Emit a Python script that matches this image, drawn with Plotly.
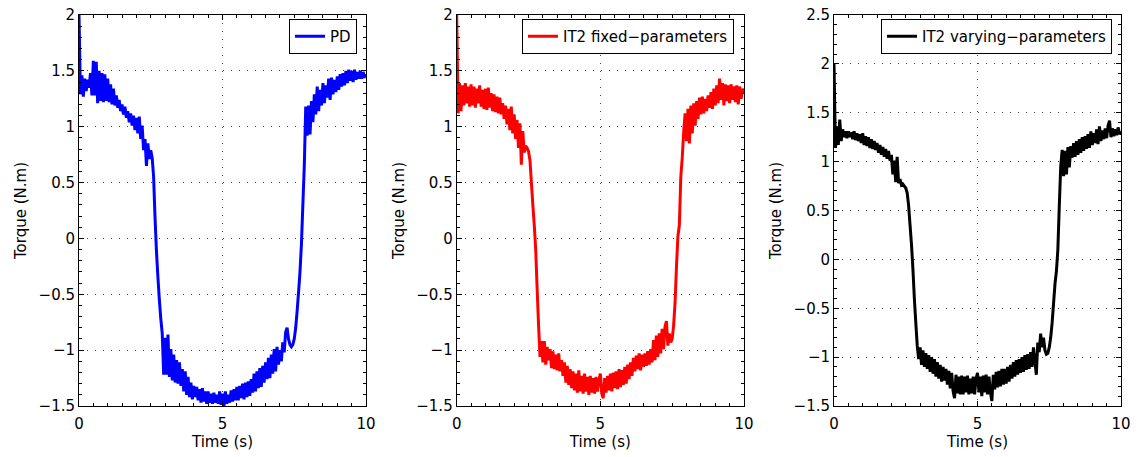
import plotly.graph_objects as go

# ---------------- data ----------------
TIME_S = [
    0.00, 0.05, 0.10, 0.15, 0.20, 0.25, 0.30, 0.35, 0.40, 0.45,
    0.50, 0.55, 0.60, 0.65, 0.70, 0.75, 0.80, 0.85, 0.90, 0.95,
    1.00, 1.05, 1.10, 1.15, 1.20, 1.25, 1.30, 1.35, 1.40, 1.45,
    1.50, 1.55, 1.60, 1.65, 1.70, 1.75, 1.80, 1.85, 1.90, 1.95,
    2.00, 2.05, 2.10, 2.15, 2.20, 2.25, 2.30, 2.35, 2.40, 2.45,
    2.50, 2.55, 2.60, 2.65, 2.70, 2.75, 2.80, 2.85, 2.90, 2.95,
    3.00, 3.05, 3.10, 3.15, 3.20, 3.25, 3.30, 3.35, 3.40, 3.45,
    3.50, 3.55, 3.60, 3.65, 3.70, 3.75, 3.80, 3.85, 3.90, 3.95,
    4.00, 4.05, 4.10, 4.15, 4.20, 4.25, 4.30, 4.35, 4.40, 4.45,
    4.50, 4.55, 4.60, 4.65, 4.70, 4.75, 4.80, 4.85, 4.90, 4.95,
    5.00, 5.05, 5.10, 5.15, 5.20, 5.25, 5.30, 5.35, 5.40, 5.45,
    5.50, 5.55, 5.60, 5.65, 5.70, 5.75, 5.80, 5.85, 5.90, 5.95,
    6.00, 6.05, 6.10, 6.15, 6.20, 6.25, 6.30, 6.35, 6.40, 6.45,
    6.50, 6.55, 6.60, 6.65, 6.70, 6.75, 6.80, 6.85, 6.90, 6.95,
    7.00, 7.05, 7.10, 7.15, 7.20, 7.25, 7.30, 7.35, 7.40, 7.45,
    7.50, 7.55, 7.60, 7.65, 7.70, 7.75, 7.80, 7.85, 7.90, 7.95,
    8.00, 8.05, 8.10, 8.15, 8.20, 8.25, 8.30, 8.35, 8.40, 8.45,
    8.50, 8.55, 8.60, 8.65, 8.70, 8.75, 8.80, 8.85, 8.90, 8.95,
    9.00, 9.05, 9.10, 9.15, 9.20, 9.25, 9.30, 9.35, 9.40, 9.45,
    9.50, 9.55, 9.60, 9.65, 9.70, 9.75, 9.80, 9.85, 9.90, 9.95,
    10.00,
]

PD_TORQUE = [
    2.00, 1.29, 1.46, 1.27, 1.43, 1.32, 1.42, 1.35, 1.48, 1.28,
    1.59, 1.28, 1.58, 1.21, 1.50, 1.23, 1.48, 1.22, 1.47, 1.23,
    1.43, 1.22, 1.38, 1.20, 1.34, 1.19, 1.28, 1.17, 1.24, 1.14,
    1.20, 1.11, 1.18, 1.08, 1.14, 1.04, 1.12, 1.01, 1.10, 0.97,
    1.08, 0.94, 1.09, 0.89, 1.01, 0.79, 0.89, 0.65, 0.85, 0.71,
    0.79, 0.72, 0.55, 0.18, -0.12, -0.35, -0.55, -0.72, -0.85, -1.22,
    -0.89, -1.22, -0.86, -1.24, -0.99, -1.27, -1.04, -1.29, -1.09, -1.30,
    -1.11, -1.32, -1.17, -1.37, -1.19, -1.40, -1.24, -1.42, -1.29, -1.44,
    -1.32, -1.42, -1.33, -1.45, -1.35, -1.47, -1.34, -1.46, -1.37, -1.48,
    -1.37, -1.47, -1.39, -1.48, -1.38, -1.47, -1.40, -1.48, -1.37, -1.49,
    -1.39, -1.50, -1.37, -1.48, -1.40, -1.47, -1.36, -1.46, -1.35, -1.45,
    -1.33, -1.45, -1.32, -1.43, -1.30, -1.44, -1.29, -1.42, -1.28, -1.41,
    -1.26, -1.38, -1.21, -1.37, -1.19, -1.34, -1.16, -1.33, -1.14, -1.29,
    -1.11, -1.26, -1.07, -1.25, -1.04, -1.21, -0.99, -1.19, -0.97, -1.13,
    -1.00, -1.10, -0.93, -1.02, -0.84, -0.80, -0.90, -0.95, -0.97, -0.95,
    -0.90, -0.80, -0.65, -0.48, -0.30, -0.05, 0.30, 0.65, 1.18, 0.92,
    1.19, 0.93, 1.23, 1.04, 1.29, 1.11, 1.36, 1.14, 1.33, 1.19,
    1.39, 1.21, 1.37, 1.26, 1.43, 1.24, 1.44, 1.29, 1.42, 1.31,
    1.45, 1.33, 1.47, 1.36, 1.48, 1.37, 1.50, 1.39, 1.51, 1.41,
    1.50, 1.40, 1.51, 1.42, 1.49, 1.43, 1.50, 1.43, 1.49, 1.44,
    1.47,
]

IT2_FIXED_TORQUE = [
    2.00, 1.12, 1.39, 1.14, 1.37, 1.19, 1.39, 1.21, 1.36, 1.18,
    1.38, 1.19, 1.36, 1.17, 1.34, 1.21, 1.37, 1.18, 1.33, 1.16,
    1.34, 1.15, 1.35, 1.17, 1.30, 1.14, 1.29, 1.13, 1.27, 1.12,
    1.26, 1.11, 1.21, 1.07, 1.19, 1.02, 1.16, 0.97, 1.18, 0.94,
    1.11, 0.89, 1.06, 0.81, 1.03, 0.66, 0.96, 0.77, 0.83, 0.81,
    0.78, 0.70, 0.50, 0.30, 0.12, -0.10, -0.45, -0.78, -1.06, -0.92,
    -1.11, -0.92, -1.13, -0.97, -1.09, -0.99, -1.16, -1.01, -1.17, -1.04,
    -1.18, -1.03, -1.19, -1.09, -1.23, -1.11, -1.29, -1.14, -1.31, -1.17,
    -1.34, -1.19, -1.36, -1.21, -1.38, -1.18, -1.37, -1.23, -1.39, -1.21,
    -1.37, -1.24, -1.40, -1.23, -1.38, -1.25, -1.39, -1.24, -1.37, -1.27,
    -1.21, -1.39, -1.43, -1.25, -1.38, -1.23, -1.36, -1.21, -1.37, -1.20,
    -1.34, -1.19, -1.35, -1.17, -1.33, -1.18, -1.31, -1.15, -1.30, -1.13,
    -1.26, -1.11, -1.23, -1.07, -1.19, -1.05, -1.17, -1.03, -1.18, -1.04,
    -1.15, -1.03, -1.14, -1.01, -1.13, -0.99, -1.11, -0.91, -1.09, -0.87,
    -1.06, -0.85, -1.03, -0.81, -0.99, -0.79, -0.74, -0.96, -0.85, -0.93,
    -0.90, -0.78, -0.58, -0.25, 0.02, 0.12, 0.55, 0.72, 0.95, 1.12,
    0.87, 1.16, 0.85, 1.19, 0.94, 1.21, 1.01, 1.23, 1.07, 1.26,
    1.11, 1.27, 1.12, 1.25, 1.14, 1.28, 1.17, 1.31, 1.16, 1.34,
    1.19, 1.37, 1.21, 1.43, 1.24, 1.39, 1.19, 1.38, 1.23, 1.37,
    1.21, 1.38, 1.24, 1.36, 1.22, 1.37, 1.20, 1.36, 1.25, 1.34,
    1.30,
]

IT2_VARYING_TORQUE = [
    2.00, 1.14, 1.36, 1.17, 1.43, 1.21, 1.33, 1.25, 1.31, 1.24,
    1.31, 1.25, 1.30, 1.23, 1.31, 1.22, 1.29, 1.21, 1.28, 1.19,
    1.29, 1.17, 1.26, 1.16, 1.25, 1.14, 1.23, 1.13, 1.21, 1.12,
    1.19, 1.09, 1.17, 1.07, 1.15, 1.05, 1.13, 1.03, 1.11, 1.01,
    1.07, 0.87, 1.01, 0.79, 1.05, 0.78, 0.82, 0.76, 0.77, 0.75,
    0.73, 0.68, 0.55, 0.35, 0.15, -0.10, -0.40, -0.65, -0.88, -1.02,
    -0.90, -1.08, -0.93, -1.10, -0.96, -1.12, -0.98, -1.15, -1.00, -1.17,
    -1.02, -1.20, -1.05, -1.22, -1.08, -1.25, -1.10, -1.24, -1.12, -1.28,
    -1.14, -1.32, -1.16, -1.35, -1.42, -1.18, -1.37, -1.20, -1.38, -1.19,
    -1.38, -1.20, -1.36, -1.19, -1.38, -1.22, -1.37, -1.20, -1.38, -1.22,
    -1.16, -1.36, -1.20, -1.40, -1.19, -1.36, -1.18, -1.38, -1.20, -1.36,
    -1.45, -1.18, -1.33, -1.15, -1.31, -1.14, -1.30, -1.12, -1.28, -1.12,
    -1.27, -1.10, -1.25, -1.08, -1.22, -1.05, -1.20, -1.03, -1.18, -1.02,
    -1.16, -1.00, -1.15, -0.98, -1.13, -0.97, -1.12, -0.95, -1.10, -0.90,
    -1.04, -1.18, -0.85, -0.95, -0.76, -0.90, -0.80, -0.93, -0.97, -0.96,
    -0.90, -0.80, -0.65, -0.45, -0.25, -0.12, 0.10, 0.55, 0.95, 1.12,
    0.85, 1.11, 0.87, 1.15, 0.94, 1.16, 1.04, 1.19, 1.05, 1.21,
    1.07, 1.23, 1.09, 1.25, 1.11, 1.26, 1.13, 1.28, 1.14, 1.31,
    1.17, 1.29, 1.19, 1.33, 1.18, 1.36, 1.21, 1.32, 1.23, 1.34,
    1.24, 1.37, 1.42, 1.25, 1.34, 1.26, 1.33, 1.27, 1.35, 1.28,
    1.31,
]

SERIES_NAMES = ["PD", "IT2 fixed\u2212parameters", "IT2 varying\u2212parameters"]
SERIES_COLORS = ["#0000ff", "#ff0000", "#000000"]
X_TICKS = [0, 5, 10]
Y_TICKS_12 = [-1.5, -1, -0.5, 0, 0.5, 1, 1.5, 2]
Y_TICKS_3 = [-1.5, -1, -0.5, 0, 0.5, 1, 1.5, 2, 2.5]
Y_RANGES = [[-1.5, 2], [-1.5, 2], [-1.5, 2.5]]
X_TITLE = "Time (s)"
Y_TITLE = "Torque (N.m)"

# ---------------- figure ----------------
W, H = 1144, 457
ML, MR, MT, MB = 79, 23, 15, 51
PW = W - ML - MR
PH = H - MT - MB
PANEL_PX = [(79, 366), (456.7, 744), (834, 1121)]
LEGEND_RIGHT_PX = [357, 734, 1112]
LEGEND_TOP_PX = 19

FONT = dict(family="DejaVu Sans, Liberation Sans, Arial", size=15, color="#000000")

fig = go.Figure()
series = [PD_TORQUE, IT2_FIXED_TORQUE, IT2_VARYING_TORQUE]
for i, (vals, name, col) in enumerate(zip(series, SERIES_NAMES, SERIES_COLORS)):
    sfx = "" if i == 0 else str(i + 1)
    fig.add_trace(go.Scatter(
        x=TIME_S, y=vals, mode="lines", name=name,
        line=dict(color=col, width=3, simplify=False),
        xaxis="x" + sfx, yaxis="y" + sfx,
        legend="legend" + sfx,
    ))

layout = dict(
    width=W, height=H,
    margin=dict(l=ML, r=MR, t=MT, b=MB, pad=0, autoexpand=False),
    paper_bgcolor="white", plot_bgcolor="white",
    font=FONT,
    showlegend=True,
)

grid_dash = "1px,7px"
for i in range(3):
    sfx = "" if i == 0 else str(i + 1)
    x0, x1 = PANEL_PX[i]
    dom = [(x0 - ML) / PW, min(1.0, (x1 - ML) / PW)]
    common = dict(
        showline=True, linecolor="#000000", linewidth=1, mirror="ticks",
        ticks="inside", ticklen=5, tickcolor="#000000", tickwidth=1,
        showgrid=True, gridcolor="#444444", gridwidth=1, griddash=grid_dash,
        zeroline=False, tickfont=FONT, fixedrange=True, automargin=False,
    )
    layout["xaxis" + sfx] = dict(
        common, domain=dom, range=[0, 10], tickmode="array", tickvals=X_TICKS,
        anchor="y" + sfx, ticklabelstandoff=4,
        minor=dict(ticks="inside", ticklen=3, dtick=0.5, tickcolor="#000000", showgrid=False),
        title=dict(text=X_TITLE, font=FONT, standoff=4),
    )
    layout["yaxis" + sfx] = dict(
        common, domain=[0, 1], range=Y_RANGES[i], tickmode="array",
        tickvals=Y_TICKS_3 if i == 2 else Y_TICKS_12,
        anchor="x" + sfx,
        minor=dict(ticks="inside", ticklen=3, dtick=0.1, tickcolor="#000000", showgrid=False),
        title=dict(text=Y_TITLE, font=FONT, standoff=8),
    )
    layout["legend" + sfx] = dict(
        x=(LEGEND_RIGHT_PX[i] - ML) / PW, xanchor="right",
        y=1 - (LEGEND_TOP_PX - MT) / PH, yanchor="top",
        xref="paper", yref="paper",
        bgcolor="white", bordercolor="#000000", borderwidth=1,
        font=FONT, tracegroupgap=0,
    )

fig.update_layout(**layout)
fig.write_html("out.html")
